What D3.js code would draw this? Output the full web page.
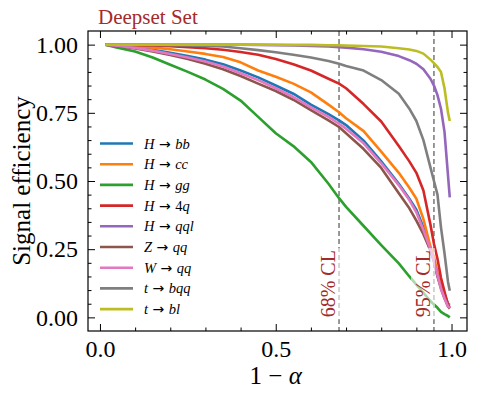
<!DOCTYPE html>
<html>
<head>
<meta charset="utf-8">
<title>Deepset Set</title>
<script src="https://d3js.org/d3.v7.min.js"></script>
<style>
  body { margin: 0; background: #fff; }
  svg { font-family: 'Liberation Serif', serif; }
  .axis path { stroke: #000; stroke-width: 1.2; }
  .axis line { stroke: #000; stroke-width: 1; }
  .axis text { font-size: 24px; font-family: 'Liberation Serif', serif; fill: #000; }
  .curve { fill: none; stroke-width: 2.6; stroke-linejoin: round; }
  .cl { font-size: 20px; fill: #a52a2a; }
</style>
</head>
<body>
<svg id="grafico" width="479" height="399"></svg>
<script>
// 1 - alpha grid
const oneMinusAlpha = [0.015, 0.05, 0.1, 0.15, 0.2, 0.25, 0.3, 0.35, 0.4, 0.45, 0.5, 0.55, 0.6, 0.65, 0.68,
  0.7, 0.75, 0.8, 0.85, 0.88, 0.9, 0.92, 0.94, 0.95, 0.96, 0.97, 0.98, 0.99, 0.995];

const effHbb = [1.0, 0.997, 0.99, 0.981, 0.97, 0.958, 0.945, 0.928, 0.905, 0.88, 0.85, 0.82, 0.78, 0.745, 0.722,
  0.705, 0.648, 0.572, 0.49, 0.435, 0.395, 0.33, 0.245, 0.21, 0.155, 0.115, 0.085, 0.05, 0.045];
const effHcc = [1.0, 0.998, 0.994, 0.989, 0.983, 0.975, 0.966, 0.955, 0.935, 0.905, 0.882, 0.857, 0.825, 0.78, 0.752,
  0.73, 0.683, 0.608, 0.53, 0.475, 0.435, 0.36, 0.26, 0.22, 0.165, 0.12, 0.08, 0.045, 0.04];
const effHgg = [1.0, 0.989, 0.975, 0.953, 0.926, 0.9, 0.872, 0.838, 0.795, 0.735, 0.675, 0.628, 0.57, 0.49, 0.437,
  0.405, 0.335, 0.265, 0.198, 0.15, 0.12, 0.09, 0.06, 0.047, 0.035, 0.02, 0.012, 0.005, 0.0];
const effH4q = [1.0, 0.999, 0.998, 0.997, 0.994, 0.991, 0.987, 0.981, 0.973, 0.963, 0.947, 0.928, 0.905, 0.875, 0.857,
  0.84, 0.782, 0.718, 0.628, 0.572, 0.53, 0.465, 0.34, 0.27, 0.215, 0.145, 0.095, 0.045, 0.035];
const effHqql = [1.0, 1.0, 1.0, 1.0, 1.0, 1.0, 1.0, 1.0, 1.0, 0.999, 0.998, 0.997, 0.995, 0.993, 0.991,
  0.989, 0.983, 0.974, 0.958, 0.943, 0.93, 0.91, 0.875, 0.85, 0.815, 0.765, 0.68, 0.52, 0.44];
const effZqq = [1.0, 0.995, 0.986, 0.975, 0.962, 0.947, 0.93, 0.91, 0.885, 0.857, 0.83, 0.798, 0.76, 0.722, 0.698,
  0.675, 0.617, 0.548, 0.455, 0.4, 0.355, 0.305, 0.245, 0.205, 0.15, 0.105, 0.07, 0.04, 0.032];
const effWqq = [1.0, 0.996, 0.988, 0.978, 0.966, 0.953, 0.938, 0.92, 0.895, 0.87, 0.84, 0.808, 0.77, 0.735, 0.71,
  0.692, 0.638, 0.565, 0.485, 0.43, 0.385, 0.32, 0.25, 0.205, 0.155, 0.105, 0.07, 0.04, 0.035];
const efftbqq = [1.0, 1.0, 0.999, 0.999, 0.998, 0.997, 0.995, 0.993, 0.987, 0.98, 0.972, 0.963, 0.953, 0.94, 0.93,
  0.922, 0.905, 0.87, 0.82, 0.765, 0.72, 0.65, 0.55, 0.5, 0.45, 0.33, 0.235, 0.13, 0.098];
const efftbl = [1.0, 1.0, 1.0, 1.0, 1.0, 1.0, 1.0, 1.0, 1.0, 1.0, 1.0, 0.999, 0.999, 0.998, 0.998,
  0.997, 0.995, 0.993, 0.987, 0.982, 0.977, 0.967, 0.945, 0.932, 0.918, 0.9, 0.84, 0.75, 0.72];

const parents = ['H', 'H', 'H', 'H', 'H', 'Z', 'W', 't', 't'];
const products = ['bb', 'cc', 'gg', '4q', 'qql', 'qq', 'qq', 'bqq', 'bl'];
const cores = ['#1f77b4', '#ff7f0e', '#2ca02c', '#d62728', '#9467bd', '#8c564b', '#e377c2', '#7f7f7f', '#bcbd22'];
const series = [effHbb, effHcc, effHgg, effH4q, effHqql, effZqq, effWqq, efftbqq, efftbl];

const clValues = [0.68, 0.95];
const clLabels = ['68% CL', '95% CL'];
const xTicks = [0.0, 0.5, 1.0];
const yTicks = [0.0, 0.25, 0.5, 0.75, 1.0];

const svg = d3.select('#grafico');
const esq = 88, dir = 467, topo = 31, base = 331;

const fnX = d3.scaleLinear().domain([-0.034, 1.044]).range([esq, dir]);
const fnY = d3.scaleLinear().domain([-0.05, 1.05]).range([base, topo]);

// minor ticks
const xMinor = d3.range(0, 11).map(d => d / 10).filter(d => !xTicks.some(t => Math.abs(t - d) < 1e-9));
const yMinor = d3.range(0, 21).map(d => d / 20).filter(d => !yTicks.some(t => Math.abs(t - d) < 1e-9));

function eixo(gen, tr, vals, size, fmt) {
  const g = svg.append('g').attr('class', 'axis').attr('transform', tr)
    .call(gen.tickValues(vals).tickSize(size).tickPadding(9).tickFormat(fmt));
  g.select('.domain').remove();
  return g;
}
const noLabel = () => '';
eixo(d3.axisBottom(fnX), `translate(0,${base})`, xTicks, -7, d3.format('.1f'));
eixo(d3.axisBottom(fnX), `translate(0,${base})`, xMinor, -3.5, noLabel);
eixo(d3.axisTop(fnX), `translate(0,${topo})`, xTicks, -7, noLabel);
eixo(d3.axisTop(fnX), `translate(0,${topo})`, xMinor, -3.5, noLabel);
eixo(d3.axisLeft(fnY), `translate(${esq},0)`, yTicks, -7, d3.format('.2f')).selectAll('text').attr('dx', -1);
eixo(d3.axisLeft(fnY), `translate(${esq},0)`, yMinor, -3.5, noLabel);
eixo(d3.axisRight(fnY), `translate(${dir},0)`, yTicks, -7, noLabel);
eixo(d3.axisRight(fnY), `translate(${dir},0)`, yMinor, -3.5, noLabel);

// CL lines
svg.selectAll('.clline').data(clValues).enter().append('line')
  .attr('x1', d => fnX(d)).attr('x2', d => fnX(d))
  .attr('y1', topo).attr('y2', base)
  .attr('stroke', '#555').attr('stroke-width', 1.2).attr('stroke-dasharray', '5,3');

// curves
const linha = d3.line().x((d, i) => fnX(oneMinusAlpha[i])).y(d => fnY(d));
svg.selectAll('.curve').data(series).enter().append('path')
  .attr('class', 'curve')
  .attr('stroke', (d, i) => cores[i])
  .attr('d', d => linha(d));

// CL labels with translucent white box
clValues.forEach((v, i) => {
  const g = svg.append('g').attr('transform', `translate(${fnX(v) - 4},${fnY(0)}) rotate(-90)`);
  const t = g.append('text').attr('class', 'cl').attr('x', 0).attr('y', 0).text(clLabels[i]);
  const bb = t.node().getBBox();
  g.insert('rect', 'text').attr('x', bb.x - 2).attr('y', bb.y - 1)
    .attr('width', bb.width + 4).attr('height', bb.height + 2)
    .attr('fill', 'white').attr('fill-opacity', 0.6);
});

// frame
svg.append('rect').attr('x', esq).attr('y', topo).attr('width', dir - esq).attr('height', base - topo)
  .attr('fill', 'none').attr('stroke', '#000').attr('stroke-width', 1.2);

// legend
const legY = d3.scaleLinear().domain([0, 1]).range([143.5, 164.2]);
const leg = svg.selectAll('.leg').data(parents).enter().append('g')
  .attr('transform', (d, i) => `translate(100,${legY(i)})`);
leg.append('line').attr('x1', 0).attr('x2', 33).attr('y1', 0).attr('y2', 0)
  .attr('stroke', (d, i) => cores[i]).attr('stroke-width', 2.6);
const lt = leg.append('text').attr('x', 44).attr('y', 5).attr('font-size', 14.5);
lt.append('tspan').attr('font-style', 'italic').text(d => d);
lt.append('tspan').attr('font-family', 'DejaVu Sans').attr('font-size', 14).text('\u00a0\u2192\u00a0');
lt.each(function (d, i) {
  const el = d3.select(this);
  products[i].split('').forEach(c => {
    el.append('tspan').attr('font-style', /[a-z]/.test(c) ? 'italic' : 'normal').text(c);
  });
});

// title
svg.append('text').attr('x', 98).attr('y', 24).attr('font-size', 21).attr('fill', '#a52a2a').text('Deepset Set');

// axis titles
svg.append('text').attr('transform', `translate(30,${(topo + base) / 2}) rotate(-90)`)
  .attr('text-anchor', 'middle').attr('font-size', 25).text('Signal efficiency');
const xl = svg.append('text').attr('x', (fnX(0) + fnX(1)) / 2).attr('y', 384)
  .attr('text-anchor', 'middle').attr('font-size', 25);
xl.append('tspan').text('1\u00a0\u2212\u00a0');
xl.append('tspan').attr('font-style', 'italic').text('\u03b1');
</script>
</body>
</html>
